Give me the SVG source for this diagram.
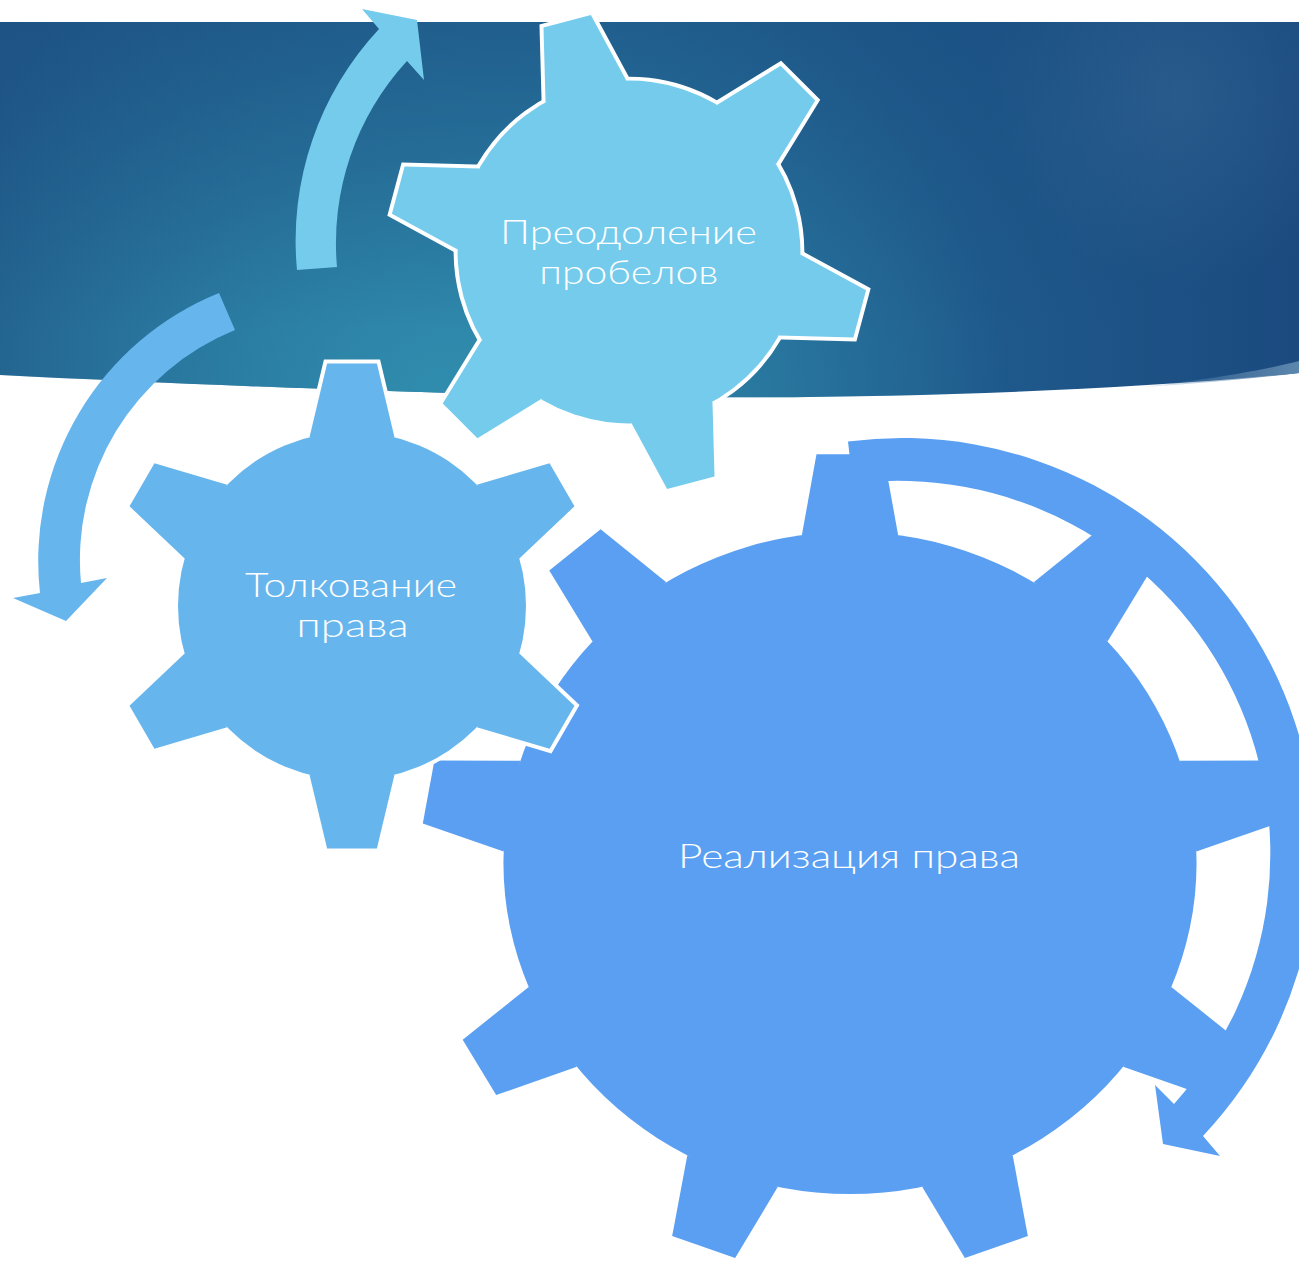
<svg xmlns="http://www.w3.org/2000/svg" xmlns:xlink="http://www.w3.org/1999/xlink" width="1299" height="1263" viewBox="0 0 1299 1263">
<style>
  .lbl { font-family: "Lato", "Noto Sans", "Liberation Sans", sans-serif; font-weight: 300; font-size: 33px; fill: #ffffff; }
  .outline { fill: #ffffff; stroke: #ffffff; stroke-width: 8; stroke-linejoin: miter; }
</style>
<defs>
  <linearGradient id="bgH" x1="0" y1="0" x2="1299" y2="0" gradientUnits="userSpaceOnUse">
    <stop offset="0" stop-color="#215c8b"/>
    <stop offset="0.45" stop-color="#256e99"/>
    <stop offset="0.75" stop-color="#1f5a8c"/>
    <stop offset="1" stop-color="#1b4a7f"/>
  </linearGradient>
  <radialGradient id="bgTeal" cx="450" cy="420" r="560" gradientUnits="userSpaceOnUse">
    <stop offset="0" stop-color="#3190b0" stop-opacity="0.95"/>
    <stop offset="1" stop-color="#3190b0" stop-opacity="0"/>
  </radialGradient>
  <linearGradient id="bgTop" x1="0" y1="22" x2="0" y2="330" gradientUnits="userSpaceOnUse">
    <stop offset="0" stop-color="#1a4c80" stop-opacity="0.55"/>
    <stop offset="1" stop-color="#1a4c80" stop-opacity="0"/>
  </linearGradient>
  <radialGradient id="bgGlow" cx="1180" cy="95" r="190" gradientUnits="userSpaceOnUse">
    <stop offset="0" stop-color="#5a86b0" stop-opacity="0.22"/>
    <stop offset="1" stop-color="#5a86b0" stop-opacity="0"/>
  </radialGradient>
  <linearGradient id="sliver" x1="1130" y1="0" x2="1299" y2="0" gradientUnits="userSpaceOnUse">
    <stop offset="0" stop-color="#5c87ad" stop-opacity="0"/>
    <stop offset="1" stop-color="#5c87ad"/>
  </linearGradient>

  <path id="tooth6" d="M-42.5,-168.7 L-24.9,-242.5 L24.9,-242.5 L42.5,-168.7 Z"/>
  <g id="gear6">
    <circle r="174"/>
    <use xlink:href="#tooth6"/>
    <use xlink:href="#tooth6" transform="rotate(60)"/>
    <use xlink:href="#tooth6" transform="rotate(120)"/>
    <use xlink:href="#tooth6" transform="rotate(180)"/>
    <use xlink:href="#tooth6" transform="rotate(240)"/>
    <use xlink:href="#tooth6" transform="rotate(300)"/>
  </g>
  <path id="tooth9" d="M-46,-327.8 L-32,-408.7 L32,-408.7 L46,-327.8 Z"/>
  <g id="gear9">
    <circle r="331"/>
    <use xlink:href="#tooth9"/>
    <use xlink:href="#tooth9" transform="rotate(40)"/>
    <use xlink:href="#tooth9" transform="rotate(80)"/>
    <use xlink:href="#tooth9" transform="rotate(120)"/>
    <use xlink:href="#tooth9" transform="rotate(160)"/>
    <use xlink:href="#tooth9" transform="rotate(200)"/>
    <use xlink:href="#tooth9" transform="rotate(240)"/>
    <use xlink:href="#tooth9" transform="rotate(280)"/>
    <use xlink:href="#tooth9" transform="rotate(320)"/>
  </g>
</defs>

<rect width="1299" height="1263" fill="#ffffff"/>

<g id="banner">
  <path d="M0,22 H1299 V373 C1100,393 850,399 650,397 C420,394 180,384 0,375 Z" fill="url(#bgH)"/>
  <path d="M0,22 H1299 V373 C1100,393 850,399 650,397 C420,394 180,384 0,375 Z" fill="url(#bgTeal)"/>
  <path d="M0,22 H1299 V373 C1100,393 850,399 650,397 C420,394 180,384 0,375 Z" fill="url(#bgTop)"/>
  <path d="M0,22 H1299 V373 C1100,393 850,399 650,397 C420,394 180,384 0,375 Z" fill="url(#bgGlow)"/>
  <path d="M1130,388 C1200,381 1260,371 1299,361 V373 C1240,380 1180,385 1130,388 Z" fill="url(#sliver)"/>
</g>

<g id="gear-realizatsiya">
  <use xlink:href="#gear9" transform="translate(850,863) scale(1.047,1)" fill="#5a9ff2"/>
</g>

<g id="connectors">
  <path id="arrow-realizatsiya" d="M848,441.5 A414,414 0 0 1 1203,1136 L1220,1156 L1163,1144 L1155,1085 L1174,1104 A373,373 0 0 0 852.8,483.5 Z" fill="#5a9ff2"/>
  <path id="arrow-preodolenie" d="M297,270 A310,310 0 0 1 379,29 L362,9 L417,20 L424,80 L407,61 A269,269 0 0 0 337,267 Z" fill="#74cbec"/>
  <path id="arrow-tolkovanie" d="M219,293 A289,289 0 0 0 40,593 L13,598 L66,621 L107,578 L81,583 A248,248 0 0 1 235,330 Z" fill="#67b5ed"/>
</g>

<g id="gear-tolkovanie">
  <use xlink:href="#gear6" transform="translate(352,606)" class="outline"/>
  <use xlink:href="#gear6" transform="translate(352,606)" fill="#67b5ed"/>
</g>

<g id="gear-preodolenie">
  <use xlink:href="#gear6" transform="translate(629,252) rotate(-15) scale(0.985)" class="outline"/>
  <use xlink:href="#gear6" transform="translate(629,252) rotate(-15) scale(0.985)" fill="#74cbec"/>
</g>

<g id="labels">
  <text class="lbl" text-anchor="middle"><tspan x="628.5" y="244" textLength="257" lengthAdjust="spacingAndGlyphs">Преодоление</tspan><tspan x="628.7" y="284" textLength="179" lengthAdjust="spacingAndGlyphs">пробелов</tspan></text>
  <text class="lbl" text-anchor="middle"><tspan x="351" y="597" textLength="212" lengthAdjust="spacingAndGlyphs">Толкование</tspan><tspan x="352.6" y="637" textLength="112" lengthAdjust="spacingAndGlyphs">права</tspan></text>
  <text class="lbl" x="849" y="868" text-anchor="middle" textLength="342" lengthAdjust="spacingAndGlyphs">Реализация права</text>
</g>
</svg>
